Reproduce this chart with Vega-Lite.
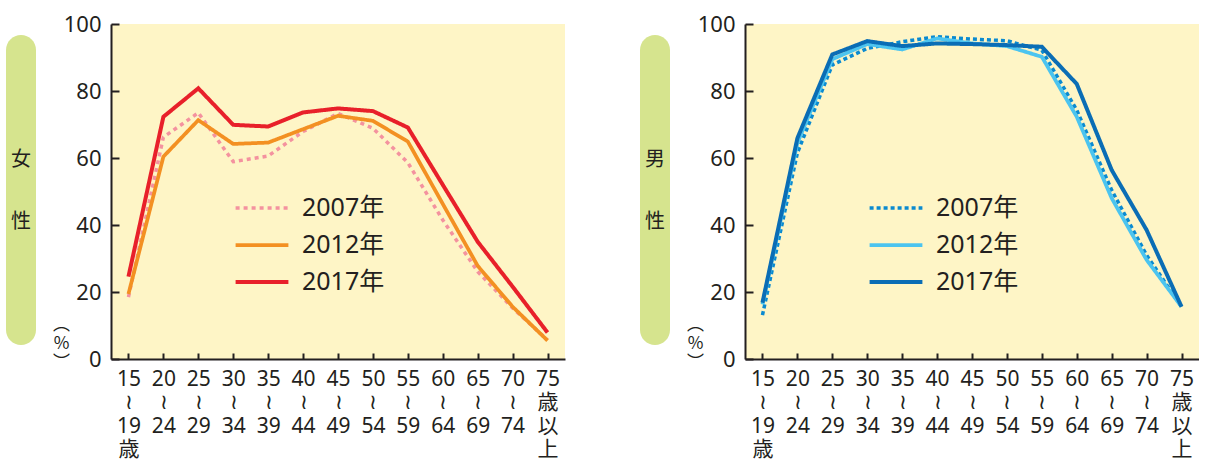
{
  "$schema": "https://vega.github.io/schema/vega-lite/v6.json",
  "background": "white",
  "padding": {"left": 6, "top": 13, "right": 0, "bottom": 0},
  "bounds": "flush",
  "spacing": 75,
  "config": {
    "view": {"stroke": null},
    "font": "Noto Sans, Noto Sans CJK JP",
    "axis": {
      "domainColor": "#231f20", "domainWidth": 2,
      "tickColor": "#231f20", "tickWidth": 2,
      "labelColor": "#231f20", "labelFont": "Noto Sans, Noto Sans CJK JP",
      "grid": false
    }
  },
  "datasets": {
    "women": [
      {"age": "15-19", "year": "2007年", "value": 18.5},
      {"age": "20-24", "year": "2007年", "value": 66.2},
      {"age": "25-29", "year": "2007年", "value": 73.5},
      {"age": "30-34", "year": "2007年", "value": 58.9},
      {"age": "35-39", "year": "2007年", "value": 60.6},
      {"age": "40-44", "year": "2007年", "value": 67.9},
      {"age": "45-49", "year": "2007年", "value": 73.3},
      {"age": "50-54", "year": "2007年", "value": 68.9},
      {"age": "55-59", "year": "2007年", "value": 58.6},
      {"age": "60-64", "year": "2007年", "value": 41.5},
      {"age": "65-69", "year": "2007年", "value": 26.1},
      {"age": "70-74", "year": "2007年", "value": 15.2},
      {"age": "75+", "year": "2007年", "value": 5.7},
      {"age": "15-19", "year": "2012年", "value": 19.4},
      {"age": "20-24", "year": "2012年", "value": 60.4},
      {"age": "25-29", "year": "2012年", "value": 71.3},
      {"age": "30-34", "year": "2012年", "value": 64.2},
      {"age": "35-39", "year": "2012年", "value": 64.6},
      {"age": "40-44", "year": "2012年", "value": 68.6},
      {"age": "45-49", "year": "2012年", "value": 72.6},
      {"age": "50-54", "year": "2012年", "value": 71.1},
      {"age": "55-59", "year": "2012年", "value": 64.9},
      {"age": "60-64", "year": "2012年", "value": 46.3},
      {"age": "65-69", "year": "2012年", "value": 27.8},
      {"age": "70-74", "year": "2012年", "value": 15.6},
      {"age": "75+", "year": "2012年", "value": 5.5},
      {"age": "15-19", "year": "2017年", "value": 24.6},
      {"age": "20-24", "year": "2017年", "value": 72.3},
      {"age": "25-29", "year": "2017年", "value": 80.8},
      {"age": "30-34", "year": "2017年", "value": 69.9},
      {"age": "35-39", "year": "2017年", "value": 69.4},
      {"age": "40-44", "year": "2017年", "value": 73.6},
      {"age": "45-49", "year": "2017年", "value": 74.8},
      {"age": "50-54", "year": "2017年", "value": 74.0},
      {"age": "55-59", "year": "2017年", "value": 69.1},
      {"age": "60-64", "year": "2017年", "value": 52.0},
      {"age": "65-69", "year": "2017年", "value": 35.0},
      {"age": "70-74", "year": "2017年", "value": 21.6},
      {"age": "75+", "year": "2017年", "value": 7.9}
    ],
    "men": [
      {"age": "15-19", "year": "2007年", "value": 13.1},
      {"age": "20-24", "year": "2007年", "value": 61.5},
      {"age": "25-29", "year": "2007年", "value": 87.8},
      {"age": "30-34", "year": "2007年", "value": 92.7},
      {"age": "35-39", "year": "2007年", "value": 94.7},
      {"age": "40-44", "year": "2007年", "value": 96.2},
      {"age": "45-49", "year": "2007年", "value": 95.5},
      {"age": "50-54", "year": "2007年", "value": 95.0},
      {"age": "55-59", "year": "2007年", "value": 92.2},
      {"age": "60-64", "year": "2007年", "value": 74.3},
      {"age": "65-69", "year": "2007年", "value": 50.4},
      {"age": "70-74", "year": "2007年", "value": 31.0},
      {"age": "75+", "year": "2007年", "value": 15.6},
      {"age": "15-19", "year": "2012年", "value": 16.3},
      {"age": "20-24", "year": "2012年", "value": 64.5},
      {"age": "25-29", "year": "2012年", "value": 89.5},
      {"age": "30-34", "year": "2012年", "value": 94.0},
      {"age": "35-39", "year": "2012年", "value": 92.4},
      {"age": "40-44", "year": "2012年", "value": 95.7},
      {"age": "45-49", "year": "2012年", "value": 94.2},
      {"age": "50-54", "year": "2012年", "value": 93.4},
      {"age": "55-59", "year": "2012年", "value": 90.2},
      {"age": "60-64", "year": "2012年", "value": 72.3},
      {"age": "65-69", "year": "2012年", "value": 48.0},
      {"age": "70-74", "year": "2012年", "value": 29.6},
      {"age": "75+", "year": "2012年", "value": 15.6},
      {"age": "15-19", "year": "2017年", "value": 16.8},
      {"age": "20-24", "year": "2017年", "value": 65.9},
      {"age": "25-29", "year": "2017年", "value": 90.9},
      {"age": "30-34", "year": "2017年", "value": 94.9},
      {"age": "35-39", "year": "2017年", "value": 93.4},
      {"age": "40-44", "year": "2017年", "value": 94.2},
      {"age": "45-49", "year": "2017年", "value": 94.0},
      {"age": "50-54", "year": "2017年", "value": 93.7},
      {"age": "55-59", "year": "2017年", "value": 93.2},
      {"age": "60-64", "year": "2017年", "value": 82.1},
      {"age": "65-69", "year": "2017年", "value": 56.4},
      {"age": "70-74", "year": "2017年", "value": 38.5},
      {"age": "75+", "year": "2017年", "value": 15.6}
    ]
  },
  "resolve": {"scale": {"color": "independent", "strokeDash": "independent", "strokeWidth": "independent"}, "legend": {"color": "independent", "strokeDash": "independent"}},
  "hconcat": [
    {
      "width": 30, "height": 335,
      "data": {"values": [{"sex": "女性"}]},
      "layer": [
        {
          "mark": {"type": "rect", "cornerRadius": 15, "color": "#d6e48e"},
          "encoding": {
            "x": {"datum": 0, "type": "quantitative", "scale": {"domain": [0, 1]}, "axis": null},
            "x2": {"datum": 1},
            "y": {"datum": 96.7, "type": "quantitative", "scale": {"domain": [0, 100]}, "axis": null},
            "y2": {"datum": 4.2}
          }
        },
        {
          "mark": {"type": "text", "fontSize": 20, "lineHeight": 62, "color": "#231f20", "baseline": "middle", "align": "center", "font": "Noto Sans CJK JP"},
          "encoding": {
            "x": {"datum": 0.5, "type": "quantitative", "scale": {"domain": [0, 1]}, "axis": null},
            "y": {"datum": 59.4, "type": "quantitative", "scale": {"domain": [0, 100]}, "axis": null},
            "text": {"value": ["女", "性"]}
          }
        }
      ]
    },
    {
      "width": 454, "height": 335,
      "data": {"name": "women"},
      "view": {"fill": "#fef5c6", "stroke": null},
      "mark": {"type": "line", "strokeCap": "butt"},
      "encoding": {
        "x": {"field": "age", "type": "ordinal", "sort": null,
          "scale": {"type": "point", "padding": 0.5},
          "axis": {"title": null, "labelAngle": 0, "labelFontSize": 21, "labelLineHeight": 23.5, "labelPadding": 15, "tickSize": -6,
            "labelExpr": "datum.value == '15-19' ? ['15', '≀', '19', '歳'] : datum.value == '75+' ? ['75', '歳', '以', '上'] : [slice(datum.value, 0, 2), '≀', slice(datum.value, 3, 5)]"}},
        "y": {"field": "value", "type": "quantitative",
          "scale": {"domain": [0, 100]},
          "axis": {"values": [0, 20, 40, 60, 80, 100], "labelFontSize": 22, "labelPadding": 18, "tickSize": -8,
            "title": ["︵", "%", "︶"], "titleAngle": 0, "titleX": -50, "titleY": 300, "titleAlign": "center", "titleBaseline": "middle",
            "titleFontSize": 17, "titleLineHeight": 19, "titleFontWeight": "normal", "titleColor": "#231f20", "titleFont": "Noto Sans CJK JP"}},
        "color": {"field": "year", "type": "nominal",
          "scale": {"domain": ["2007年", "2012年", "2017年"], "range": ["#f4929f", "#f39022", "#e8202a"]},
          "legend": {"orient": "none", "legendX": 127, "legendY": 160, "title": null, "symbolType": "M-1.2,0H1.2", "symbolSize": 1936, "symbolStrokeWidth": 4,
            "labelFontSize": 25, "labelColor": "#231f20", "labelOffset": 16, "rowPadding": 0, "labelFont": "Noto Sans, Noto Sans CJK JP"}},
        "strokeDash": {"field": "year", "type": "nominal",
          "scale": {"domain": ["2007年", "2012年", "2017年"], "range": [[4, 4], [1, 0], [1, 0]]}},
        "strokeWidth": {"field": "year", "type": "nominal",
          "scale": {"domain": ["2007年", "2012年", "2017年"], "range": [3.5, 4, 4]}, "legend": null}
      }
    },
    {
      "width": 30, "height": 335,
      "data": {"values": [{"sex": "男性"}]},
      "layer": [
        {
          "mark": {"type": "rect", "cornerRadius": 15, "color": "#d6e48e"},
          "encoding": {
            "x": {"datum": 0, "type": "quantitative", "scale": {"domain": [0, 1]}, "axis": null},
            "x2": {"datum": 1},
            "y": {"datum": 96.7, "type": "quantitative", "scale": {"domain": [0, 100]}, "axis": null},
            "y2": {"datum": 4.2}
          }
        },
        {
          "mark": {"type": "text", "fontSize": 20, "lineHeight": 62, "color": "#231f20", "baseline": "middle", "align": "center", "font": "Noto Sans CJK JP"},
          "encoding": {
            "x": {"datum": 0.5, "type": "quantitative", "scale": {"domain": [0, 1]}, "axis": null},
            "y": {"datum": 59.4, "type": "quantitative", "scale": {"domain": [0, 100]}, "axis": null},
            "text": {"value": ["男", "性"]}
          }
        }
      ]
    },
    {
      "width": 454, "height": 335,
      "data": {"name": "men"},
      "view": {"fill": "#fef5c6", "stroke": null},
      "mark": {"type": "line", "strokeCap": "butt"},
      "encoding": {
        "x": {"field": "age", "type": "ordinal", "sort": null,
          "scale": {"type": "point", "padding": 0.5},
          "axis": {"title": null, "labelAngle": 0, "labelFontSize": 21, "labelLineHeight": 23.5, "labelPadding": 15, "tickSize": -6,
            "labelExpr": "datum.value == '15-19' ? ['15', '≀', '19', '歳'] : datum.value == '75+' ? ['75', '歳', '以', '上'] : [slice(datum.value, 0, 2), '≀', slice(datum.value, 3, 5)]"}},
        "y": {"field": "value", "type": "quantitative",
          "scale": {"domain": [0, 100]},
          "axis": {"values": [0, 20, 40, 60, 80, 100], "labelFontSize": 22, "labelPadding": 18, "tickSize": -8,
            "title": ["︵", "%", "︶"], "titleAngle": 0, "titleX": -50, "titleY": 300, "titleAlign": "center", "titleBaseline": "middle",
            "titleFontSize": 17, "titleLineHeight": 19, "titleFontWeight": "normal", "titleColor": "#231f20", "titleFont": "Noto Sans CJK JP"}},
        "color": {"field": "year", "type": "nominal",
          "scale": {"domain": ["2007年", "2012年", "2017年"], "range": ["#0a8ad0", "#4cc4ef", "#0a6db5"]},
          "legend": {"orient": "none", "legendX": 127, "legendY": 160, "title": null, "symbolType": "M-1.2,0H1.2", "symbolSize": 1936, "symbolStrokeWidth": 4,
            "labelFontSize": 25, "labelColor": "#231f20", "labelOffset": 16, "rowPadding": 0, "labelFont": "Noto Sans, Noto Sans CJK JP"}},
        "strokeDash": {"field": "year", "type": "nominal",
          "scale": {"domain": ["2007年", "2012年", "2017年"], "range": [[4, 3], [1, 0], [1, 0]]}},
        "strokeWidth": {"field": "year", "type": "nominal",
          "scale": {"domain": ["2007年", "2012年", "2017年"], "range": [3.5, 4, 4]}, "legend": null}
      }
    }
  ]
}
